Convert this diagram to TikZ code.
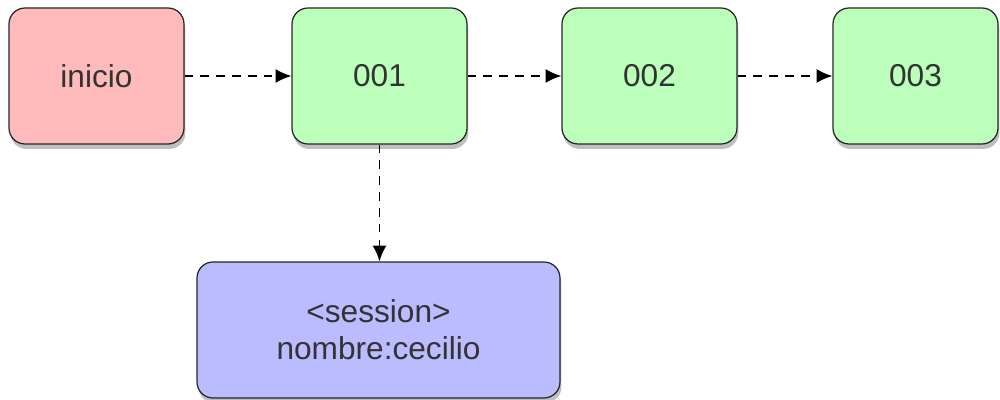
\documentclass[tikz,border=0pt]{standalone}
\usepackage{fontspec}
\setmainfont{Liberation Sans}
\usetikzlibrary{arrows.meta,shadows}

\definecolor{inicioRed}{HTML}{FFBBBB}
\definecolor{pageGreen}{HTML}{BBFFBB}
\definecolor{sessionBlue}{HTML}{BBBBFF}

\begin{document}
\begin{tikzpicture}[
    box/.style={draw=black!85, line width=0.7pt, rounded corners=0.32cm,
        minimum height=2.72cm, minimum width=3.5cm, align=center,
        text=black!80, font=\fontsize{18}{21}\selectfont,
        drop shadow={shadow xshift=0.8pt, shadow yshift=-2.8pt, opacity=0.5}},
    link/.style={-{Latex[length=9pt,width=8pt]}, dash pattern=on 5pt off 4pt,
        line width=1pt}
  ]
    \useasboundingbox (0,0) rectangle (20,8);

    % Pages in sequence
    \node[box, fill=inicioRed] (inicio) at (1.93,6.48) {inicio};
    \node[box, fill=pageGreen] (p001) at (7.59,6.48) {001};
    \node[box, fill=pageGreen] (p002) at (12.99,6.48) {002};
    \node[box, fill=pageGreen, minimum width=3.3cm] (p003) at (18.31,6.48) {003};

    % Session data
    \node[box, fill=sessionBlue, minimum width=7.26cm] (session) at (7.57,1.4)
        {<session>\\nombre:cecilio};

    % Arrows between pages
    \draw[link] (inicio) -- (p001);
    \draw[link] (p001) -- (p002);
    \draw[link] (p002) -- (p003);
    \draw[link] (p001.south) -- (p001.south |- session.north);
  \end{tikzpicture}
\end{document}
